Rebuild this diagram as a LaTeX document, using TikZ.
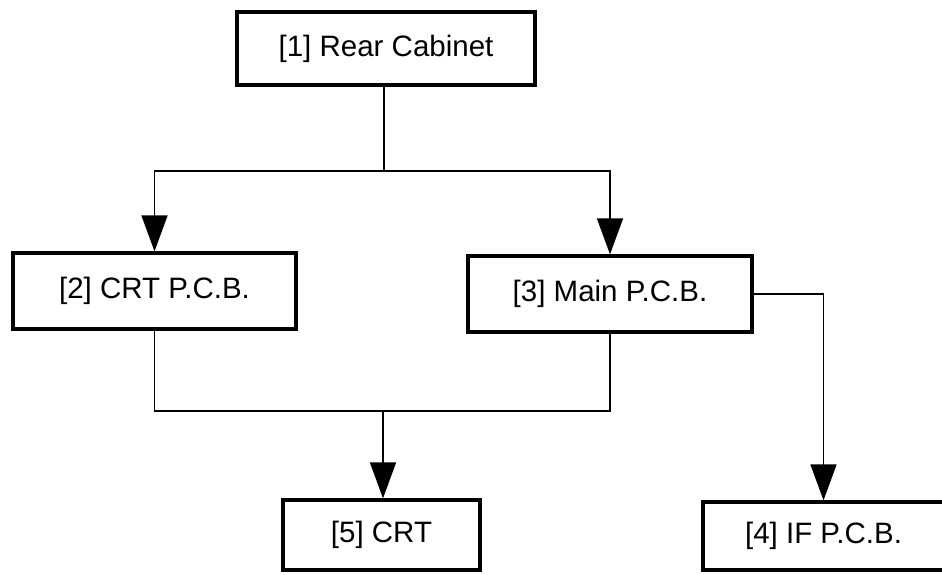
\documentclass[tikz,border=0pt]{standalone}
\usepackage{fontspec}
\setmainfont{Liberation Sans}
\usetikzlibrary{arrows.meta}
\begin{document}
\begin{tikzpicture}[x=1pt,y=-1pt,
  box/.style={draw=black,line width=3.3pt,rectangle,inner sep=0pt,
    font=\fontsize{29.5}{32}\selectfont},
  conn/.style={draw=black,line width=1.6pt},
  arr/.style={conn,-{Triangle[width=26pt,length=36pt]}}]
\useasboundingbox (0,0) rectangle (942,575);
\node[box,minimum width=298pt,minimum height=73pt] (b1) at (386,48.5) {[1] Rear Cabinet};
\node[box,minimum width=283pt,minimum height=76pt] (b2) at (154.5,291) {[2] CRT P.C.B.};
\node[box,minimum width=284pt,minimum height=76pt] (b3) at (610,294) {[3] Main P.C.B.};
\node[box,minimum width=197pt,minimum height=70pt] (b5) at (381.5,535) {[5] CRT};
\node[box,minimum width=241pt,minimum height=68pt] (b4) at (823.5,536) {[4] IF P.C.B.};
\coordinate (j1) at (384,171);
\coordinate (j2) at (383,411);
\draw[conn] (j1 |- b1.south) -- (j1);
\draw[arr] (j1) -| (b2.north);
\draw[arr] (j1) -| (b3.north);
\draw[conn] (b2.south) |- (j2);
\draw[conn] (b3.south) |- (j2);
\draw[arr] (j2) -- (j2 |- b5.north);
\draw[arr] (b3.east) -| (b4.north);
\end{tikzpicture}
\end{document}
